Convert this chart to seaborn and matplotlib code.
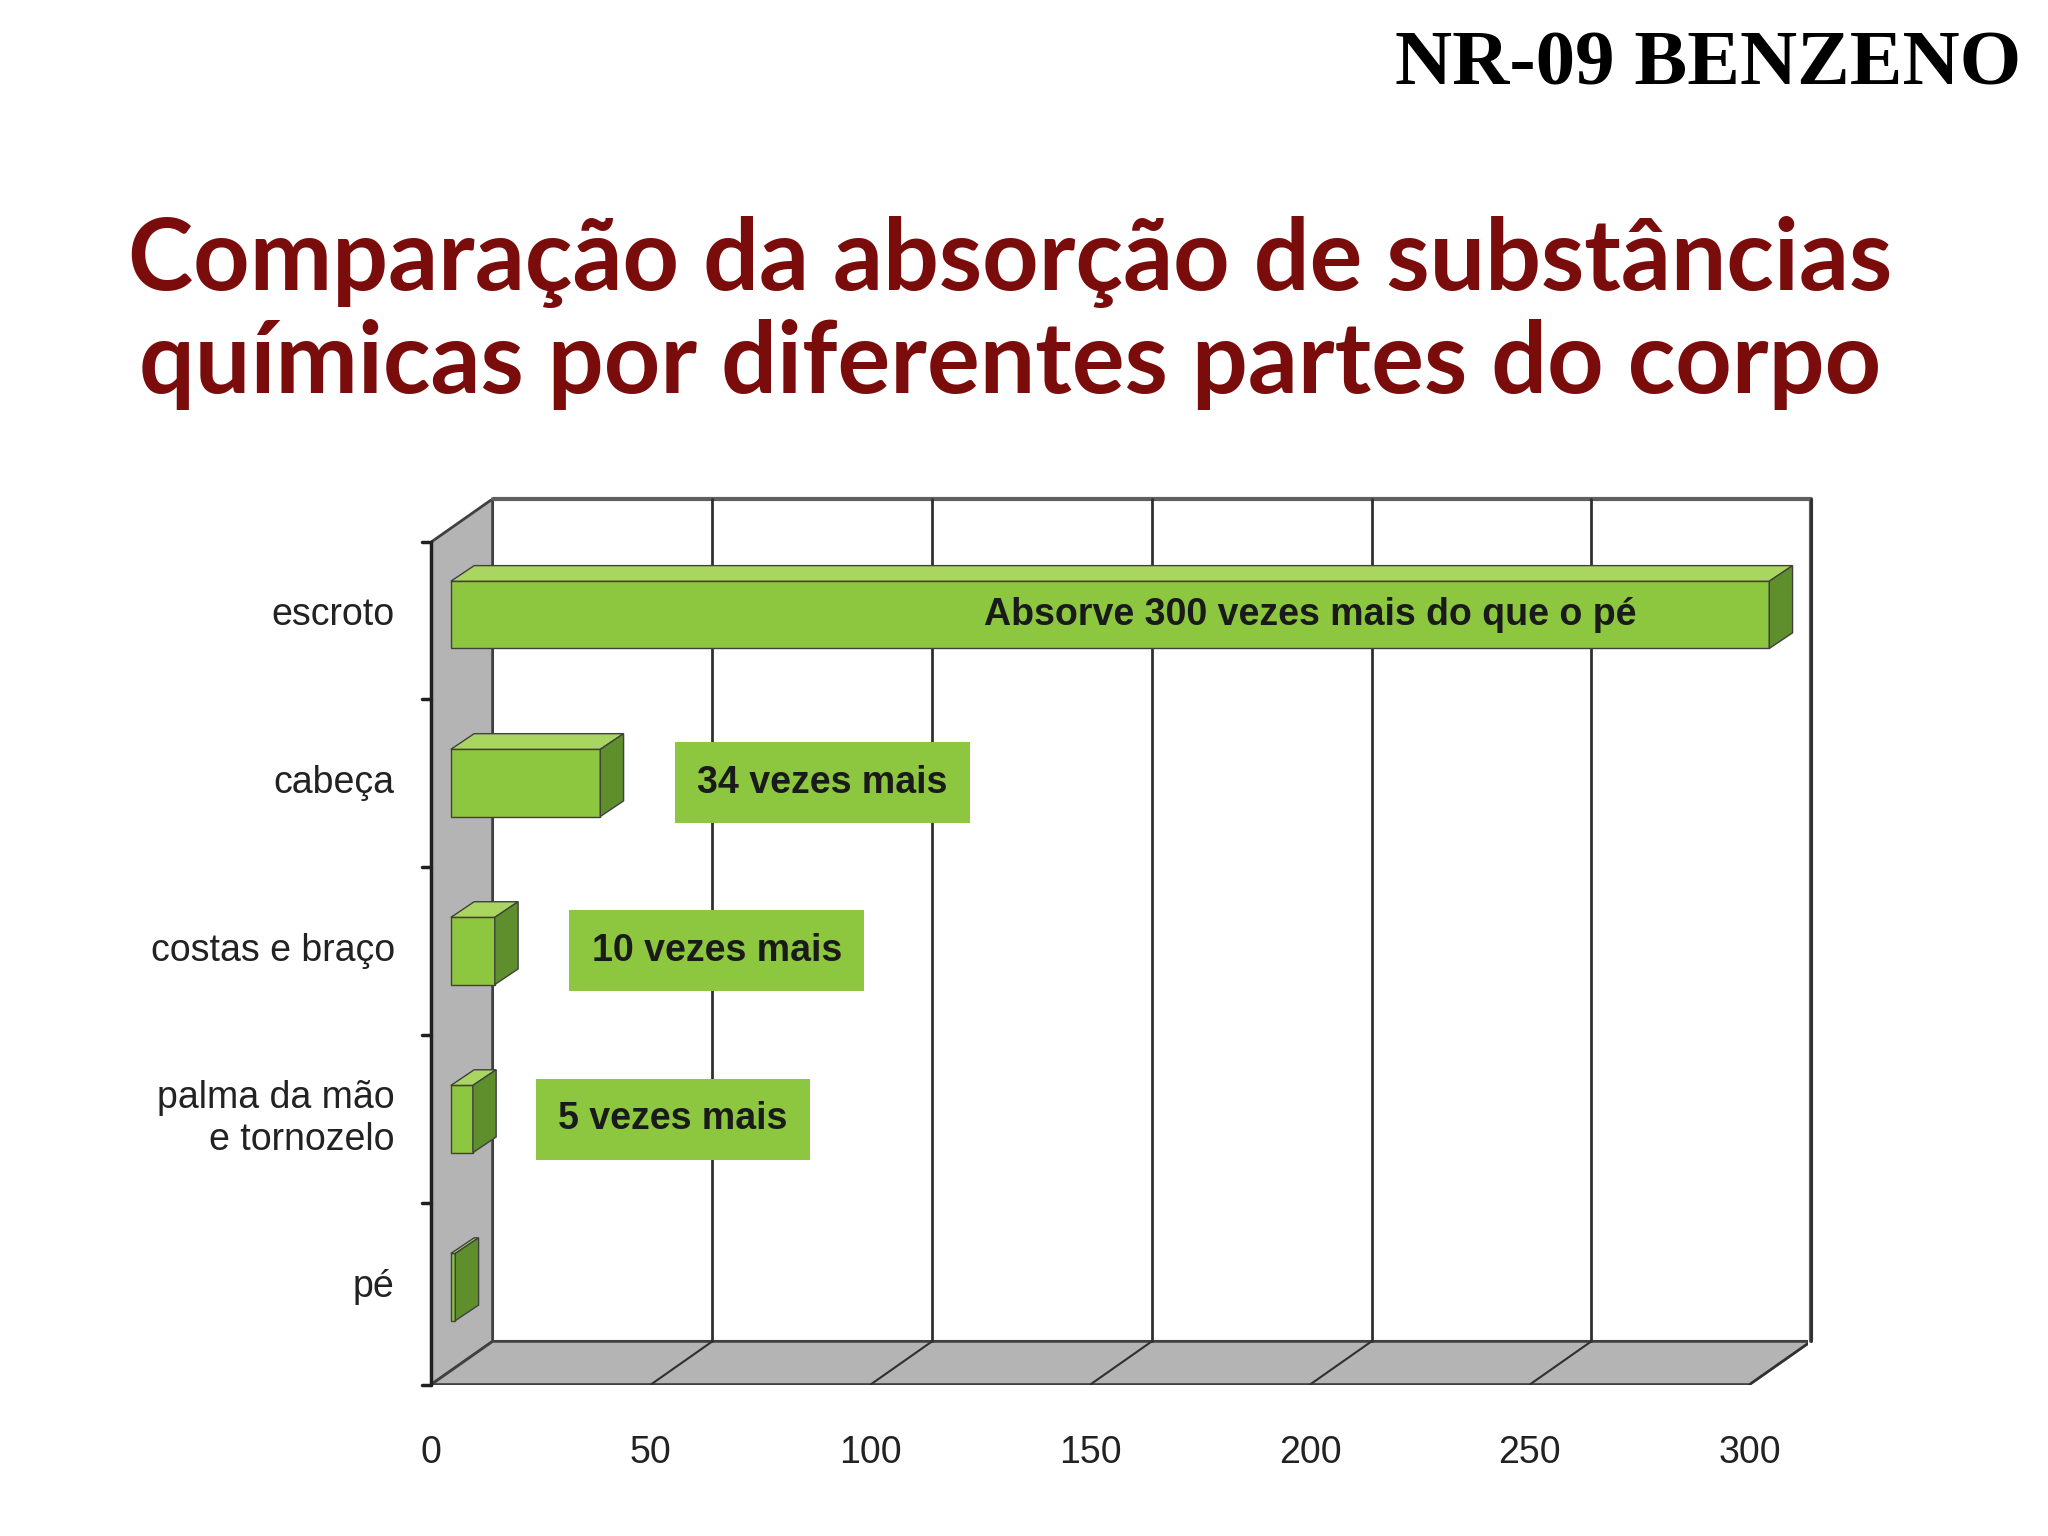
import matplotlib
matplotlib.use('Agg')
import matplotlib.pyplot as plt
from matplotlib.patches import Polygon
import seaborn as sns
import pandas as pd

parts = ['escroto', 'cabeça', 'costas e braço', 'palma da mão\ne tornozelo', 'pé']
absorption = [300, 34, 10, 5, 1]
notes = ['Absorve 300 vezes mais do que o pé', '34 vezes mais', '10 vezes mais', '5 vezes mais', '']
note_x = [200, 89, 65, 55, None]
x_ticks = [0, 50, 100, 150, 200, 250, 300]

df = pd.DataFrame({'part': parts, 'value': absorption})

sns.set_theme(style='white')
plt.rcParams['font.family'] = ['Liberation Sans', 'DejaVu Sans']

fig = plt.figure(figsize=(20.48, 15.36), dpi=100)
ax = fig.add_axes([0.2105, 0.0986, 0.6725, 0.5766])

front = '#8dc63f'
side = '#5e8f2c'
top = '#a8d660'
grey = '#b4b4b4'

y_bot, y_top = 4.58, -0.69
dx, dy = 14, 0.257       # depth of the box walls
start = 4.5              # bars start slightly off the wall

sns.barplot(data=df, x='value', y='part', orient='h', color=front,
            width=0.40, saturation=1, edgecolor='#404040', linewidth=1, ax=ax, zorder=5)
bars = list(ax.patches)

# walls and floor
ax.add_patch(Polygon([(0, y_bot), (dx, y_bot - dy), (dx, y_top), (0, y_top + dy)],
                     closed=True, fc=grey, ec='#404040', lw=2, zorder=1))
ax.add_patch(Polygon([(0, y_bot), (300, y_bot), (300 + dx, y_bot - dy), (dx, y_bot - dy)],
                     closed=True, fc=grey, ec='#404040', lw=2, zorder=1))
ax.plot([dx, 300 + dx, 300 + dx], [y_top, y_top, y_bot - dy], color='#606060', lw=3,
        zorder=1, clip_on=False)
for t in x_ticks[1:]:
    ax.plot([t + dx, t + dx], [y_top, y_bot - dy], color='#303030', lw=2, zorder=1, clip_on=False)
    ax.plot([t, t + dx], [y_bot, y_bot - dy], color='#303030', lw=1.5, zorder=1)
ax.plot([0, 0], [y_top + dy, y_bot], color='#202020', lw=2.5, zorder=2, clip_on=False)
for b in [y_top + dy, 0.5, 1.5, 2.5, 3.5, y_bot]:
    ax.plot([-2, 0], [b, b], color='#202020', lw=2.5, zorder=2, clip_on=False)

# 3D faces of the bars
bdx, bdy = 5.3, 0.093
for p in bars:
    p.set_x(start)
    x0, x1 = start, start + p.get_width()
    y0, y1 = p.get_y(), p.get_y() + p.get_height()
    ax.add_patch(Polygon([(x0, y0), (x1, y0), (x1 + bdx, y0 - bdy), (x0 + bdx, y0 - bdy)],
                         closed=True, fc=top, ec='#404040', lw=1, zorder=6))
    ax.add_patch(Polygon([(x1, y0), (x1 + bdx, y0 - bdy), (x1 + bdx, y1 - bdy), (x1, y1)],
                         closed=True, fc=side, ec='#404040', lw=1, zorder=6))

for i, (txt, nx) in enumerate(zip(notes, note_x)):
    if not txt:
        continue
    box = None if i == 0 else dict(boxstyle='square,pad=0.6', fc=front, ec='none')
    ax.text(nx, i, txt, ha='center', va='center', fontsize=27, fontweight='bold',
            color='#1a1a1a', bbox=box, zorder=8)

for i, lab in enumerate(parts):
    ax.text(-8.3, i, lab, ha='right', va='center', fontsize=27, color='#222222',
            clip_on=False, linespacing=1.2)
for t in x_ticks:
    ax.text(t, 4.99, str(t), ha='center', va='center', fontsize=27, color='#222222', clip_on=False)

ax.set_xlim(0, 313.4)
ax.set_ylim(y_bot, y_top)
ax.axis('off')

fig.text(0.493, 0.796, 'Comparação da absorção de substâncias\nquímicas por diferentes partes do corpo',
         ha='center', va='center', fontsize=71, fontweight='bold', color='#7a0c0c',
         family=['Lato', 'DejaVu Sans'], linespacing=1.15)
fig.text(0.987, 0.957, 'NR-09 BENZENO', ha='right', va='center', fontsize=57,
         fontweight='bold', color='black', family=['Liberation Serif', 'DejaVu Serif'])

plt.savefig('out.png', dpi=100)
